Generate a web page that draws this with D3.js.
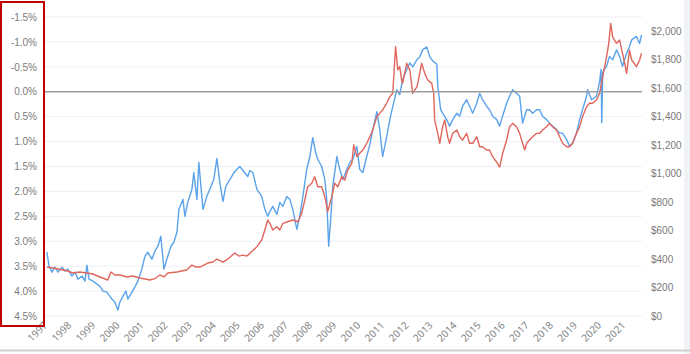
<!DOCTYPE html>
<html>
<head>
<meta charset="utf-8">
<script src="https://cdn.jsdelivr.net/npm/d3@7"></script>
<style>
  html, body { margin: 0; padding: 0; background: #fff; }
  svg { display: block; font-family: "Open Sans", "Noto Sans", sans-serif; }
  .axis text { fill: #7a7a7a; font-size: 10px; }
</style>
</head>
<body>
<div id="chart"></div>
<script>
// real yield (left axis, inverted): time as decimal year, value in %
const yieldTimes = [1997.08,1997.17,1997.29,1997.41,1997.54,1997.71,1997.83,1997.95,1998.12,1998.24,1998.37,1998.54,
  1998.66,1998.74,1998.83,1998.99,1999.16,1999.28,1999.41,1999.57,1999.78,1999.90,2000.03,2000.11,2000.24,2000.36,
  2000.44,2000.61,2000.73,2000.86,2001.02,2001.15,2001.27,2001.44,2001.56,2001.69,2001.81,2001.94,2002.06,2002.23,
  2002.35,2002.48,2002.56,2002.73,2002.81,2002.93,2003.10,2003.18,2003.31,2003.39,2003.56,2003.72,2003.89,2004.01,
  2004.14,2004.26,2004.39,2004.51,2004.68,2004.88,2005.09,2005.22,2005.42,2005.51,2005.63,2005.80,2006.00,2006.13,
  2006.25,2006.34,2006.46,2006.63,2006.75,2006.88,2007.04,2007.17,2007.29,2007.46,2007.58,2007.71,2007.87,2008.00,
  2008.12,2008.24,2008.33,2008.49,2008.62,2008.70,2008.78,2008.87,2008.95,2009.12,2009.24,2009.37,2009.53,2009.66,
  2009.78,2009.95,2010.07,2010.20,2010.36,2010.49,2010.61,2010.78,2010.90,2011.02,2011.19,2011.32,2011.44,2011.61,
  2011.73,2011.85,2012.02,2012.15,2012.27,2012.44,2012.56,2012.68,2012.85,2012.98,2013.10,2013.27,2013.31,2013.43,
  2013.51,2013.68,2013.80,2013.93,2014.10,2014.22,2014.34,2014.51,2014.63,2014.76,2014.93,2015.05,2015.17,2015.34,
  2015.46,2015.59,2015.76,2015.88,2016.00,2016.17,2016.29,2016.42,2016.58,2016.71,2016.83,2017.00,2017.12,2017.25,
  2017.41,2017.54,2017.66,2017.83,2017.95,2018.08,2018.24,2018.37,2018.49,2018.66,2018.78,2018.91,2019.07,2019.20,
  2019.32,2019.49,2019.53,2019.70,2019.90,2020.03,2020.09,2020.12,2020.16,2020.32,2020.44,2020.57,2020.73,2020.86,
  2020.98,2021.15,2021.27,2021.36,2021.56,2021.69,2021.77];
const yieldValues = [3.22,3.50,3.62,3.52,3.62,3.52,3.60,3.56,3.70,3.62,3.76,3.70,
  3.80,3.48,3.76,3.80,3.86,3.90,4.00,4.02,4.16,4.22,4.38,4.22,4.10,4.00,
  4.16,4.02,3.92,3.80,3.56,3.30,3.22,3.36,3.20,3.10,2.90,3.56,3.36,3.10,
  3.02,2.82,2.36,2.16,2.50,2.22,1.96,1.62,2.16,1.42,2.36,2.10,1.90,1.76,
  1.34,1.82,2.20,1.90,1.76,1.60,1.50,1.58,1.70,1.58,1.62,1.96,2.10,2.36,
  2.50,2.40,2.30,2.46,2.22,2.30,2.10,2.16,2.36,2.76,2.50,2.10,1.56,1.30,
  0.92,1.22,1.36,1.50,1.76,2.16,3.10,2.50,1.90,1.30,1.56,1.76,1.56,1.42,
  1.36,1.10,1.56,1.62,1.30,1.06,0.76,0.40,0.76,1.30,0.90,0.56,0.30,-0.04,
  0.06,-0.24,-0.44,-0.58,-0.50,-0.64,-0.70,-0.84,-0.90,-0.70,-0.62,-0.55,-0.11,0.36,
  0.43,0.56,0.69,0.56,0.43,0.49,0.29,0.16,0.29,0.43,0.23,0.03,0.16,0.29,
  0.36,0.49,0.56,0.69,0.49,0.23,0.09,-0.04,0.03,0.09,0.63,0.36,0.36,0.43,
  0.36,0.36,0.49,0.56,0.63,0.69,0.76,0.83,0.83,0.96,1.09,1.03,0.83,0.56,
  0.36,0.09,-0.04,0.16,0.09,-0.20,-0.45,0.62,-0.40,-0.51,-0.71,-0.64,-0.84,-0.71,
  -0.51,-0.77,-0.91,-1.04,-1.11,-0.97,-1.14];

// gold price (right axis): time as decimal year, value in US$
const goldTimes = [1997.08,1997.33,1997.54,1997.75,1997.95,1998.16,1998.45,1998.74,1998.99,1999.28,1999.61,1999.74,
  1999.90,2000.11,2000.40,2000.65,2000.94,2001.36,2001.56,2001.77,2001.94,2002.10,2002.48,2002.68,2002.89,2003.10,
  2003.27,2003.43,2003.60,2003.76,2003.97,2004.14,2004.39,2004.59,2004.88,2005.05,2005.22,2005.38,2005.51,2005.80,
  2006.00,2006.13,2006.25,2006.34,2006.46,2006.63,2006.75,2006.88,2007.08,2007.29,2007.50,2007.66,2007.79,2007.91,
  2008.08,2008.20,2008.33,2008.49,2008.62,2008.74,2008.91,2009.03,2009.16,2009.32,2009.45,2009.57,2009.74,2009.82,
  2009.95,2010.07,2010.20,2010.36,2010.49,2010.61,2010.78,2010.90,2011.02,2011.19,2011.32,2011.44,2011.56,2011.65,
  2011.73,2011.81,2011.85,2012.02,2012.15,2012.27,2012.44,2012.48,2012.64,2012.77,2012.89,2013.06,2013.14,2013.18,
  2013.31,2013.39,2013.51,2013.60,2013.72,2013.80,2013.93,2014.10,2014.22,2014.34,2014.51,2014.63,2014.76,2014.93,
  2015.05,2015.17,2015.34,2015.46,2015.59,2015.76,2015.88,2016.00,2016.17,2016.29,2016.42,2016.58,2016.71,2016.83,
  2016.92,2017.00,2017.12,2017.25,2017.41,2017.54,2017.66,2017.83,2017.95,2018.08,2018.24,2018.37,2018.49,2018.66,
  2018.78,2018.91,2019.07,2019.20,2019.32,2019.49,2019.61,2019.74,2019.90,2020.03,2020.16,2020.32,2020.41,2020.49,
  2020.57,2020.73,2020.86,2020.98,2021.07,2021.15,2021.27,2021.36,2021.56,2021.69,2021.77];
const goldValues = [344,337,330,323,316,302,309,302,295,274,253,309,
  288,288,274,281,267,253,262,288,274,302,309,316,323,358,
  344,344,358,372,379,400,379,400,442,421,428,421,440,487,
  534,604,674,651,604,627,604,651,662,674,662,721,815,908,
  932,978,908,908,838,733,838,932,908,978,955,1025,1072,1201,
  1119,1143,1166,1213,1259,1306,1400,1423,1447,1494,1540,1564,1891,1728,
  1751,1657,1634,1775,1728,1564,1610,1634,1775,1704,1657,1634,1560,1376,
  1283,1213,1329,1376,1259,1213,1283,1306,1259,1236,1283,1213,1213,1259,
  1189,1189,1166,1166,1119,1080,1046,1140,1236,1329,1353,1329,1283,1213,
  1166,1213,1236,1259,1283,1283,1306,1329,1353,1329,1306,1259,1213,1189,
  1189,1213,1283,1329,1400,1470,1494,1494,1517,1564,1680,1821,1915,2055,
  1961,1915,1938,1845,1775,1704,1868,1798,1751,1798,1845];

const yieldTicks = [-1.5, -1.0, -0.5, 0.0, 0.5, 1.0, 1.5, 2.0, 2.5, 3.0, 3.5, 4.0, 4.5];
const goldTicks = [0, 200, 400, 600, 800, 1000, 1200, 1400, 1600, 1800, 2000];
const yearTicks = d3.range(1997, 2022);

const W = 690, H = 354;
const plotLeft = 45, plotRight = 642, plotTop = 17, plotBottom = 316;

// decimal year -> Date
function toDate(t) {
  const y = Math.floor(t);
  const start = new Date(y, 0, 1), end = new Date(y + 1, 0, 1);
  return new Date(+start + (t - y) * (end - start));
}

const svg = d3.select('#chart').append('svg')
  .attr('width', W)
  .attr('height', H);

// scales
const x = d3.scaleTime()
  .domain([new Date(1997, 0, 1), new Date(2021, 0, 1)])
  .range([plotLeft, 623]);

const yLeft = d3.scaleLinear()
  .domain([-1.5, 4.5])
  .range([plotTop, plotBottom]);

const yRight = d3.scaleLinear()
  .domain([0, 2100])
  .range([plotBottom, plotTop]);

// gridlines
svg.append('g')
  .selectAll('line')
  .data(yieldTicks.filter(d => d !== 0))
  .join('line')
  .attr('x1', plotLeft).attr('x2', plotRight)
  .attr('y1', d => yLeft(d)).attr('y2', d => yLeft(d))
  .attr('stroke', '#eceff7')
  .attr('stroke-width', 1);

// axes
const leftAxis = svg.append('g')
  .attr('class', 'axis')
  .attr('transform', 'translate(40,0)')
  .call(d3.axisLeft(yLeft).tickValues(yieldTicks).tickSize(0).tickPadding(3)
    .tickFormat(d => d.toFixed(1) + '%'));
leftAxis.select('.domain').remove();

const rightAxis = svg.append('g')
  .attr('class', 'axis')
  .attr('transform', 'translate(648,0)')
  .call(d3.axisRight(yRight).tickValues(goldTicks).tickSize(0).tickPadding(3)
    .tickFormat(d => '$' + d3.format(',')(d)));
rightAxis.select('.domain').remove();

const xAxis = svg.append('g')
  .attr('class', 'axis');
xAxis.selectAll('text')
  .data(yearTicks)
  .join('text')
  .attr('transform', d => `translate(${x(new Date(d, 0, 1)) + 3},${plotBottom + 10}) rotate(-45)`)
  .attr('text-anchor', 'end')
  .text(d => d);

// lines
const yieldData = yieldTimes.map((t, i) => ({ date: toDate(t), value: yieldValues[i] }));
const goldData = goldTimes.map((t, i) => ({ date: toDate(t), value: goldValues[i] }));

const yieldLine = d3.line()
  .x(d => x(d.date))
  .y(d => yLeft(d.value));

const goldLine = d3.line()
  .x(d => x(d.date))
  .y(d => yRight(d.value));

svg.append('path')
  .datum(yieldData)
  .attr('fill', 'none')
  .attr('stroke', '#5aa3eb')
  .attr('stroke-width', 1.4)
  .attr('stroke-linejoin', 'round')
  .attr('d', yieldLine);

svg.append('path')
  .datum(goldData)
  .attr('fill', 'none')
  .attr('stroke', '#e0665c')
  .attr('stroke-width', 1.4)
  .attr('stroke-linejoin', 'round')
  .attr('d', goldLine);

// zero line
svg.append('line')
  .attr('x1', plotLeft).attr('x2', plotRight)
  .attr('y1', yLeft(0)).attr('y2', yLeft(0))
  .attr('stroke', '#9c9c9c')
  .attr('stroke-width', 1.5);

// red highlight box round the left axis
svg.append('rect')
  .attr('x', 1).attr('y', 2)
  .attr('width', 43).attr('height', 324)
  .attr('fill', 'none')
  .attr('stroke', '#c00000')
  .attr('stroke-width', 2);

// page edges
svg.append('rect')
  .attr('x', 684).attr('y', 0)
  .attr('width', 6).attr('height', H)
  .attr('fill', '#f1f2f5');
svg.append('line')
  .attr('x1', 0).attr('x2', W)
  .attr('y1', 350.5).attr('y2', 350.5)
  .attr('stroke', '#cfcfcf')
  .attr('stroke-width', 2);
</script>
</body>
</html>
